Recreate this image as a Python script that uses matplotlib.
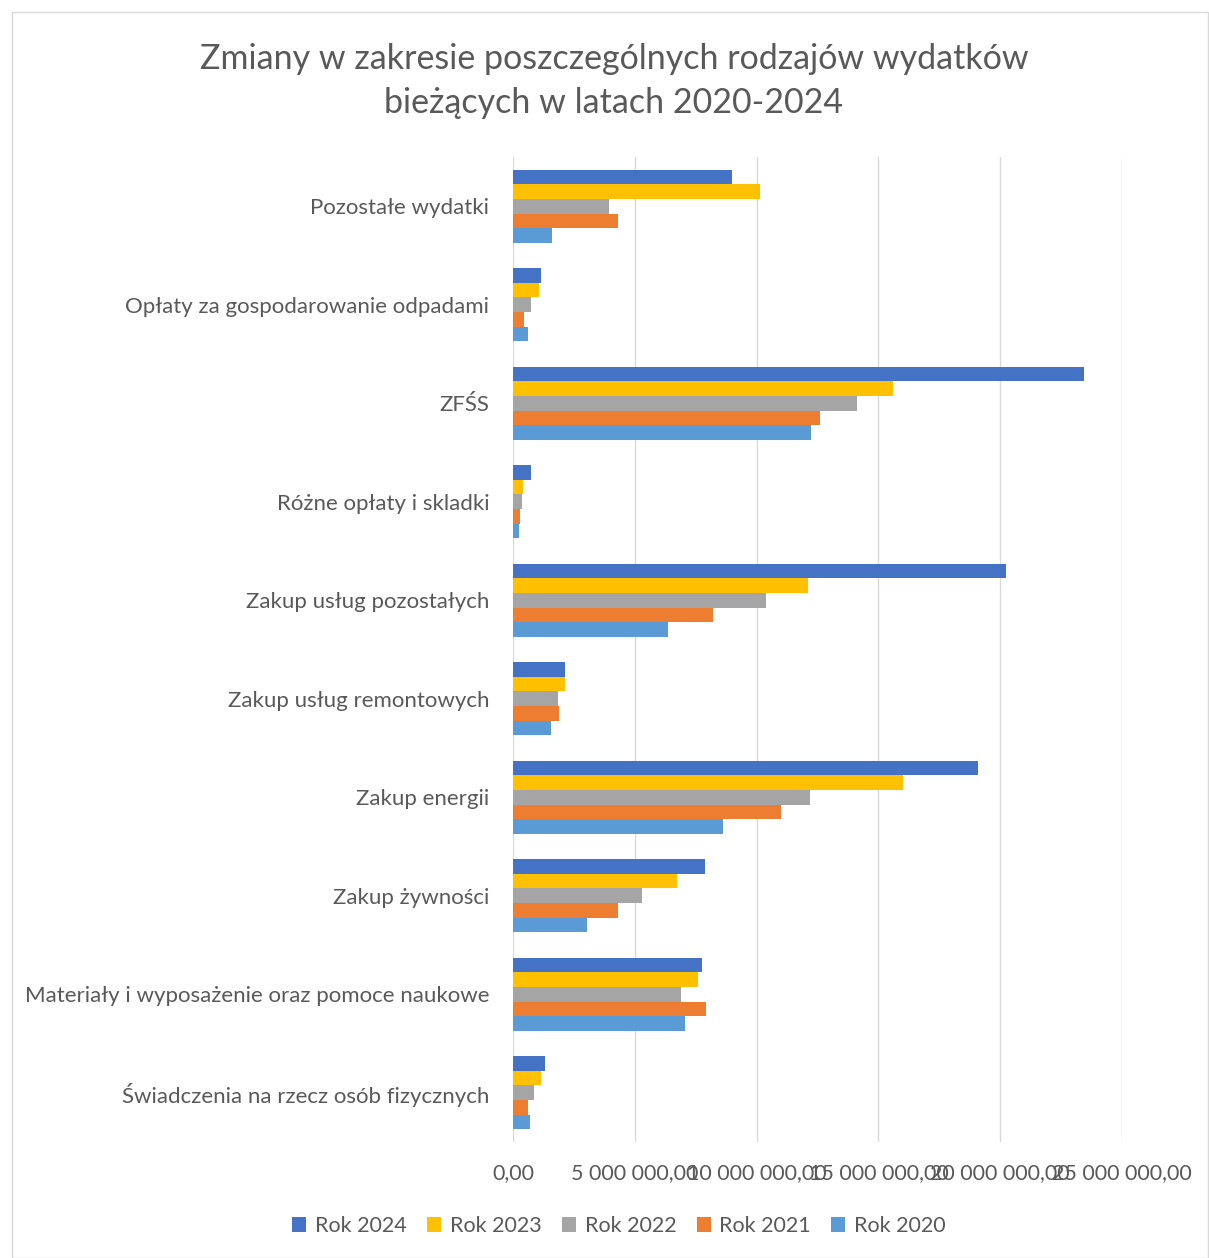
import matplotlib

matplotlib.use("Agg")
import matplotlib.pyplot as plt
import numpy as np
from matplotlib.patches import Rectangle
from matplotlib.ticker import FuncFormatter

plt.rcParams["font.family"] = ["Lato", "DejaVu Sans"]

# bottom -> top
categories = [
    "Świadczenia na rzecz osób fizycznych",
    "Materiały i wyposażenie oraz pomoce naukowe",
    "Zakup żywności",
    "Zakup energii",
    "Zakup usług remontowych",
    "Zakup usług pozostałych",
    "Różne opłaty i skladki",
    "ZFŚS",
    "Opłaty za gospodarowanie odpadami",
    "Pozostałe wydatki",
]

rok_2020 = [0.68e6, 7.06e6, 3.04e6, 8.62e6, 1.58e6, 6.36e6, 0.25e6, 12.23e6, 0.60e6, 1.60e6]
rok_2021 = [0.62e6, 7.92e6, 4.31e6, 11.00e6, 1.89e6, 8.21e6, 0.29e6, 12.60e6, 0.45e6, 4.31e6]
rok_2022 = [0.88e6, 6.90e6, 5.30e6, 12.19e6, 1.83e6, 10.39e6, 0.37e6, 14.12e6, 0.74e6, 3.94e6]
rok_2023 = [1.13e6, 7.59e6, 6.73e6, 16.01e6, 2.15e6, 12.11e6, 0.41e6, 15.60e6, 1.07e6, 10.14e6]
rok_2024 = [1.31e6, 7.76e6, 7.88e6, 19.09e6, 2.15e6, 20.24e6, 0.72e6, 23.44e6, 1.15e6, 8.99e6]

series = [
    ("Rok 2020", rok_2020, "#5B9BD5"),
    ("Rok 2021", rok_2021, "#ED7D31"),
    ("Rok 2022", rok_2022, "#A5A5A5"),
    ("Rok 2023", rok_2023, "#FFC000"),
    ("Rok 2024", rok_2024, "#4472C4"),
]

W, H = 1209, 1258
fig = plt.figure(figsize=(W / 100, H / 100), dpi=100)
fig.patches.append(Rectangle((12 / W, 0), 1 - 13 / W, 1 - 12 / H, transform=fig.transFigure,
                             fill=False, edgecolor="#d9d9d9", linewidth=1))
ax = fig.add_axes([513 / W, 1 - 1142 / H, (1122 - 513) / W, (1142 - 157) / H])

y = np.arange(len(categories))
bh = 0.149
for i, (name, vals, color) in enumerate(series):
    ax.barh(y + (i - 2) * bh, vals, height=bh, color=color, label=name, zorder=3)

ax.set_xlim(0, 25e6)
ax.set_ylim(-0.5, len(categories) - 0.5)
ax.set_xticks(np.arange(0, 25e6 + 1, 5e6))
ax.xaxis.set_major_formatter(FuncFormatter(
    lambda v, _: f"{v:,.2f}".replace(",", " ").replace(".", ",")))
ax.set_yticks(y)
ax.set_yticklabels(categories)
ax.tick_params(axis="both", length=0, labelsize=16, labelcolor="#595959")
ax.tick_params(axis="x", labelsize=15.5, pad=15)
ax.tick_params(axis="y", pad=17)
ax.grid(axis="x", color="#d9d9d9", linewidth=1, zorder=0)
for s in ax.spines.values():
    s.set_visible(False)

fig.text(614 / W, 1 - 81 / H,
         "Zmiany w zakresie poszczególnych rodzajów wydatków\nbieżących w latach 2020-2024",
         ha="center", va="center", fontsize=24.5, color="#595959", linespacing=1.45)

handles, labels = ax.get_legend_handles_labels()
fig.legend(handles[::-1], labels[::-1], loc="center", bbox_to_anchor=(619 / W, 1 - 1226 / H),
           ncol=5, frameon=False, fontsize=15.5, labelcolor="#595959",
           handlelength=0.65, handleheight=0.65, handletextpad=0.4, columnspacing=0.95)

fig.savefig("out.png", dpi=100)
